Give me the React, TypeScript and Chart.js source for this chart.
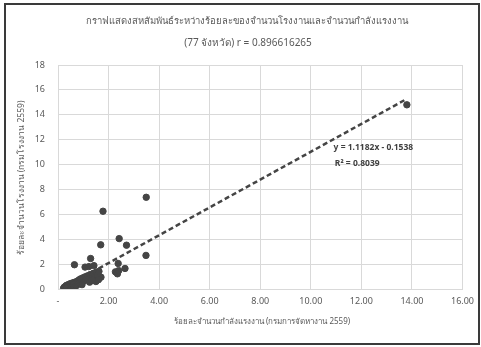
import React, { useEffect, useRef } from "react";
import { Chart, registerables } from "chart.js";

Chart.register(...registerables);

// Share of provincial workforce (%), Department of Employment 2559
const workforcePct: number[] = [
  13.8, 3.49, 1.78, 2.42, 1.69, 2.71, 3.48, 2.38, 2.65, 2.27, 2.35, 2.4, 0.65, 1.29, 1.07, 1.22, 1.42, 1.7,
  0.22, 0.25, 0.28, 0.3, 0.32, 0.34, 0.36, 0.38, 0.4, 0.42, 0.44, 0.46, 0.48, 0.5, 0.52, 0.54, 0.56, 0.58,
  0.6, 0.62, 0.64, 0.66, 0.68, 0.7, 0.72, 0.74, 0.76, 0.78, 0.8, 0.82, 0.84, 0.86, 0.88, 0.9, 0.93, 0.96,
  0.99, 1.02, 1.05, 1.08, 1.11, 1.14, 1.17, 1.2, 1.24, 1.28, 1.32, 1.36, 1.4, 1.44, 1.48, 1.52, 1.57, 1.62,
  1.5, 1.25, 0.95, 1.6, 1.35,
];

// Share of provincial factories (%), Department of Industrial Works 2559
const factoryPct: number[] = [
  14.8, 7.37, 6.25, 4.05, 3.55, 3.52, 2.7, 2.05, 1.65, 1.38, 1.22, 1.48, 1.95, 2.45, 1.76, 1.8, 1.88, 0.95,
  0.06, 0.15, 0.04, 0.22, 0.1, 0.3, 0.16, 0.08, 0.26, 0.36, 0.14, 0.21, 0.42, 0.3, 0.11, 0.34, 0.48, 0.24,
  0.4, 0.31, 0.53, 0.19, 0.44, 0.36, 0.58, 0.29, 0.5, 0.65, 0.42, 0.56, 0.74, 0.47, 0.62, 0.82, 0.58, 0.71,
  0.9, 0.66, 0.8, 0.98, 0.74, 0.9, 1.06, 0.84, 1.0, 1.16, 0.92, 1.1, 1.26, 1.02, 1.2, 1.36, 1.12, 1.42,
  0.6, 0.55, 0.35, 0.75, 0.7,
];

// Linear trendline coefficients and labels
const slope = 1.1182;
const intercept = -0.1538;
const equationLabel = "y = 1.1182x - 0.1538";
const rSquaredLabel = "R² = 0.8039";

const titleLines = [
  "กราฟแสดงสหสัมพันธ์ระหว่างร้อยละของจำนวนโรงงานและจำนวนกำลังแรงงาน",
  "(77 จังหวัด) r = 0.896616265",
];
const xTitle = "ร้อยละจำนวนกำลังแรงงาน (กรมการจัดหางาน 2559)";
const yTitle = "ร้อยละจำนวนโรงงาน (กรมโรงงาน 2559)";

const FONT = "'Noto Sans', 'DejaVu Sans', sans-serif";
const TEXT = "#595959";

export default function App() {
  const ref = useRef<HTMLCanvasElement | null>(null);

  useEffect(() => {
    document.body.style.margin = "0";
    const canvas = ref.current;
    if (!canvas) return;

    const points = workforcePct.map((x, i) => ({ x, y: factoryPct[i] }));
    const xMin = Math.min(...workforcePct);
    const xMax = Math.max(...workforcePct);
    const trend = [xMin, xMax].map((x) => ({ x, y: slope * x + intercept }));

    const decorations = {
      id: "decorations",
      beforeDraw(chart: any) {
        const ctx = chart.ctx;
        ctx.save();
        ctx.fillStyle = "#ffffff";
        ctx.fillRect(0, 0, chart.width, chart.height);
        ctx.restore();
      },
      afterDraw(chart: any) {
        const ctx = chart.ctx;
        const { x, y } = chart.scales;
        ctx.save();
        // outer frame
        ctx.strokeStyle = "#3a3a3a";
        ctx.lineWidth = 2;
        ctx.strokeRect(5, 4, 474, 340);

        // title
        ctx.fillStyle = TEXT;
        ctx.textAlign = "center";
        ctx.textBaseline = "middle";
        ctx.font = `9.5px ${FONT}`;
        ctx.fillText(titleLines[0], 247, 21);
        ctx.font = `10px ${FONT}`;
        ctx.fillText(titleLines[1], 248, 43);

        // axis titles
        ctx.font = `8px ${FONT}`;
        ctx.fillText(xTitle, 262, 322);
        ctx.font = `8.5px ${FONT}`;
        ctx.save();
        ctx.translate(22, 178);
        ctx.rotate(-Math.PI / 2);
        ctx.fillText(yTitle, 0, 0);
        ctx.restore();

        // trendline equation
        ctx.fillStyle = "#404040";
        ctx.textAlign = "left";
        ctx.font = `bold 8.5px ${FONT}`;
        ctx.fillText(equationLabel, x.getPixelForValue(10.9), y.getPixelForValue(11.4));
        ctx.fillText(rSquaredLabel, x.getPixelForValue(10.95), y.getPixelForValue(10.1));
        ctx.restore();
      },
    };

    const chart = new Chart(canvas, {
      type: "scatter",
      data: {
        datasets: [
          {
            type: "scatter",
            data: points,
            backgroundColor: "#454545",
            borderColor: "#454545",
            pointRadius: 3.2,
            pointHoverRadius: 3.2,
            order: 2,
          },
          {
            type: "line",
            data: trend,
            borderColor: "#454545",
            borderWidth: 2.5,
            borderDash: [5, 3],
            pointRadius: 0,
            fill: false,
            order: 1,
          } as any,
        ],
      },
      options: {
        animation: false,
        responsive: false,
        layout: { padding: { left: 10, right: 18, top: 65, bottom: 0 } },
        plugins: { legend: { display: false }, tooltip: { enabled: false }, title: { display: false } },
        scales: {
          x: {
            type: "linear",
            min: 0,
            max: 16,
            border: { color: "#d9d9d9" },
            grid: { color: "#d9d9d9", drawTicks: false },
            ticks: {
              stepSize: 2,
              padding: 7,
              color: TEXT,
              font: { family: FONT, size: 9 },
              callback: (v: any) => (Number(v) === 0 ? "-" : Number(v).toFixed(2)),
            },
            afterFit: (s: any) => {
              s.height = 58;
            },
          },
          y: {
            type: "linear",
            min: 0,
            max: 18,
            border: { color: "#d9d9d9" },
            grid: { color: "#d9d9d9", drawTicks: false },
            ticks: {
              stepSize: 2,
              padding: 13,
              color: TEXT,
              font: { family: FONT, size: 9 },
            },
            afterFit: (s: any) => {
              s.width = 48;
            },
          },
        },
      },
      plugins: [decorations],
    });

    return () => chart.destroy();
  }, []);

  return (
    <div style={{ position: "relative", width: 481, height: 347 }}>
      <canvas ref={ref} width={481} height={347} style={{ display: "block" }} />
    </div>
  );
}
